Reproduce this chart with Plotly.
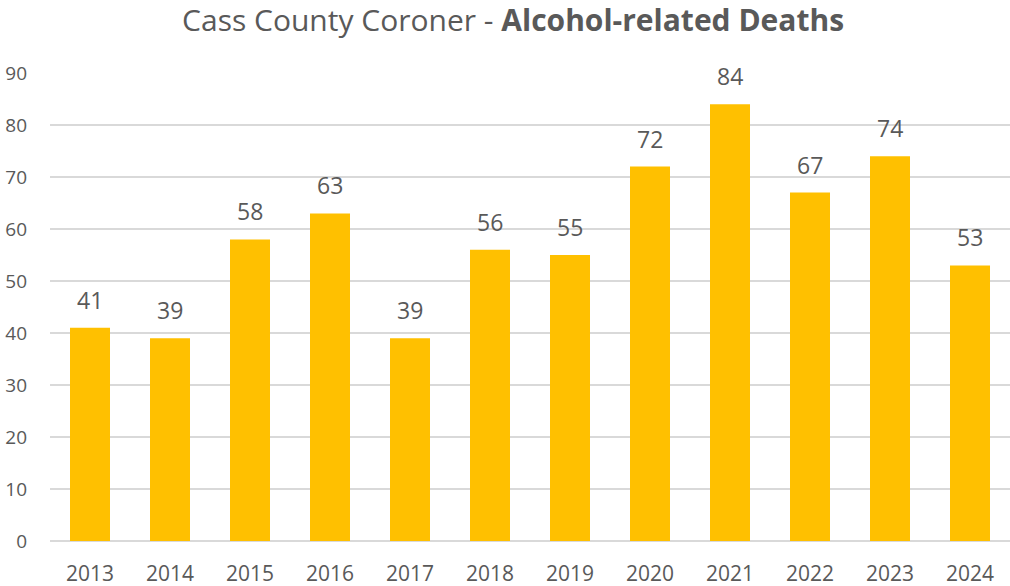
import plotly.graph_objects as go

years = ["2013", "2014", "2015", "2016", "2017", "2018", "2019", "2020", "2021", "2022", "2023", "2024"]
deaths = [41, 39, 58, 63, 39, 56, 55, 72, 84, 67, 74, 53]
y_ticks = [0, 10, 20, 30, 40, 50, 60, 70, 80, 90]

font_family = "Open Sans"
gray = "#595959"

fig = go.Figure()
fig.add_trace(go.Bar(
    x=years, y=deaths,
    marker=dict(color="#FFC000", line=dict(width=0)),
    width=0.5,
    hoverinfo="x+y",
))

for i, v in enumerate(deaths):
    fig.add_annotation(x=i, y=v, xref="x", yref="y", text=str(v), showarrow=False,
                       yanchor="bottom", yshift=10,
                       font=dict(family=font_family, size=23, color=gray))

fig.update_layout(
    width=1010, height=586,
    margin=dict(l=50, r=0, t=73, b=45),
    paper_bgcolor="white", plot_bgcolor="white",
    showlegend=False,
    title=dict(text="Cass County Coroner - <b>Alcohol-related Deaths</b>",
               x=0.508, xanchor="center", y=0.965, yanchor="middle",
               font=dict(family=font_family, size=30, color=gray)),
    xaxis=dict(type="category", range=[-0.5, 11.5], showgrid=False,
               showline=False, ticks="", ticklabelstandoff=18, automargin=False,
               tickfont=dict(family=font_family, size=21, color=gray)),
    yaxis=dict(range=[0, 90], tickvals=y_ticks, showgrid=True,
               gridcolor="#D9D9D9", gridwidth=1.5, zeroline=True,
               zerolinecolor="#D9D9D9", zerolinewidth=1.5, showline=False,
               ticks="", ticklabelstandoff=22, automargin=False,
               tickfont=dict(family=font_family, size=19, color=gray)),
)

# remove the browser's default 8px body margin so the figure fills the window
fig.write_html("out.html",
               config={"displayModeBar": False},
               post_script="document.body.style.margin='0';document.body.style.overflow='hidden';")
